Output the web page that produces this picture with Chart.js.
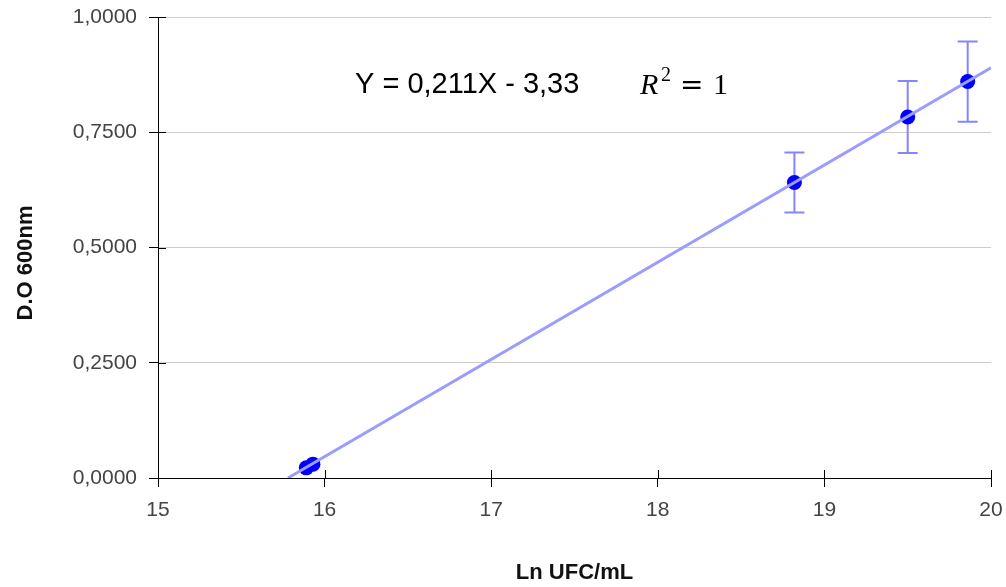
<!DOCTYPE html>
<html>
<head>
<meta charset="utf-8">
<script src="https://cdn.jsdelivr.net/npm/chart.js@4"></script>
<style>
  html, body { margin: 0; padding: 0; background: #fff; }
  #wrap { width: 1006px; height: 587px; }
</style>
</head>
<body>
<div id="wrap"><canvas id="odChart" width="1006" height="587"></canvas></div>
<script>
// data
const lnUfc = [15.89, 15.93, 18.82, 19.50, 19.86];
const odMean = [0.022, 0.030, 0.641, 0.783, 0.860];
const odErr = [0, 0, 0.065, 0.078, 0.087];

// fitted trend line, endpoints as drawn
const trendX = [15.78, 20];
const trendY = [0, 0.89];

const xTicks = [15, 16, 17, 18, 19, 20];
const yTicks = [0, 0.25, 0.5, 0.75, 1];

const equationText = 'Y = 0,211X - 3,33';
const xTitle = 'Ln UFC/mL';
const yTitle = 'D.O 600nm';

const sans = 'Arial, "Liberation Sans", sans-serif';
const serif = '"Liberation Serif", serif';

// error bars, inner tick halves, y title and the equation
const extras = {
  id: 'extras',
  beforeDatasetsDraw(chart) {
    const ctx = chart.ctx;
    const xs = chart.scales.x, ys = chart.scales.y;
    ctx.save();
    ctx.strokeStyle = '#8585ff';
    ctx.lineWidth = 2;
    lnUfc.forEach((x, i) => {
      if (!odErr[i]) return;
      const px = xs.getPixelForValue(x);
      const top = ys.getPixelForValue(odMean[i] + odErr[i]);
      const bot = ys.getPixelForValue(odMean[i] - odErr[i]);
      ctx.beginPath();
      ctx.moveTo(px, top); ctx.lineTo(px, bot);
      ctx.moveTo(px - 10, top); ctx.lineTo(px + 10, top);
      ctx.moveTo(px - 10, bot); ctx.lineTo(px + 10, bot);
      ctx.stroke();
    });
    ctx.restore();
  },
  afterDraw(chart) {
    const ctx = chart.ctx;
    const xs = chart.scales.x, ys = chart.scales.y;
    const area = chart.chartArea;
    ctx.save();
    // tick marks also go a bit into the plot
    ctx.strokeStyle = '#000';
    ctx.lineWidth = 1;
    ctx.beginPath();
    yTicks.forEach(v => {
      const py = Math.round(ys.getPixelForValue(v)) + 0.5;
      ctx.moveTo(area.left, py); ctx.lineTo(area.left + 8, py);
    });
    xTicks.forEach(v => {
      const px = Math.round(xs.getPixelForValue(v)) + 0.5;
      ctx.moveTo(px, area.bottom); ctx.lineTo(px, area.bottom - 8);
    });
    ctx.stroke();

    // y axis title
    ctx.fillStyle = '#111';
    ctx.font = 'bold 22px ' + sans;
    ctx.textAlign = 'center';
    ctx.textBaseline = 'middle';
    ctx.translate(26, 263);
    ctx.rotate(-Math.PI / 2);
    ctx.fillText(yTitle, 0, 0);
    ctx.setTransform(1, 0, 0, 1, 0, 0);

    // equation
    ctx.textAlign = 'left';
    ctx.textBaseline = 'alphabetic';
    ctx.fillStyle = '#000';
    ctx.font = '29px ' + sans;
    ctx.fillText(equationText, 355, 93);
    ctx.font = 'italic 30px ' + serif;
    ctx.fillText('R', 640, 94);
    ctx.font = '20px ' + serif;
    ctx.fillText('2', 661, 81);
    ctx.font = '28px "DejaVu Serif", serif';
    ctx.fillText('=', 680, 94);
    ctx.font = '30px ' + serif;
    ctx.fillText('1', 713, 94);
    ctx.restore();
  }
};

const ctx = document.getElementById('odChart').getContext('2d');
const chart = new Chart(ctx, {
  type: 'scatter',
  data: {
    datasets: [
      {
        label: 'trend',
        type: 'line',
        data: trendX.map((x, i) => ({ x: x, y: trendY[i] })),
        borderColor: '#9c9cff',
        borderWidth: 3,
        pointRadius: 0,
        fill: false
      },
      {
        label: 'D.O',
        data: lnUfc.map((x, i) => ({ x: x, y: odMean[i] })),
        backgroundColor: '#0000ff',
        borderColor: '#0000ff',
        borderWidth: 0,
        pointRadius: 7.5,
        pointHoverRadius: 7.5
      }
    ]
  },
  options: {
    responsive: false,
    animation: false,
    layout: { padding: { top: 17, right: 15, left: 0, bottom: 0 } },
    plugins: {
      legend: { display: false },
      tooltip: { enabled: false }
    },
    scales: {
      x: {
        type: 'linear',
        min: 15,
        max: 20,
        afterFit: s => { s.height = 109; s.paddingLeft = 0; s.paddingRight = 0; },
        afterBuildTicks: s => { s.ticks = xTicks.map(v => ({ value: v })); },
        border: { color: '#000', width: 1 },
        grid: { drawOnChartArea: false, tickLength: 9, tickColor: '#000' },
        ticks: { color: '#444', padding: 11, font: { family: sans, size: 21 } },
        title: {
          display: true,
          text: xTitle,
          color: '#111',
          font: { family: sans, size: 22, weight: 'bold' },
          padding: { top: 0, bottom: 1 }
        }
      },
      y: {
        type: 'linear',
        min: 0,
        max: 1,
        afterFit: s => { s.width = 158; s.paddingTop = 0; s.paddingBottom = 0; },
        afterBuildTicks: s => { s.ticks = yTicks.map(v => ({ value: v })); },
        border: { color: '#000', width: 1 },
        grid: { color: '#cccccc', tickLength: 9, tickColor: '#000' },
        ticks: {
          color: '#444',
          padding: 12,
          font: { family: sans, size: 21 },
          callback: v => v.toFixed(4).replace('.', ',')
        }
      }
    }
  },
  plugins: [extras]
});
</script>
</body>
</html>
